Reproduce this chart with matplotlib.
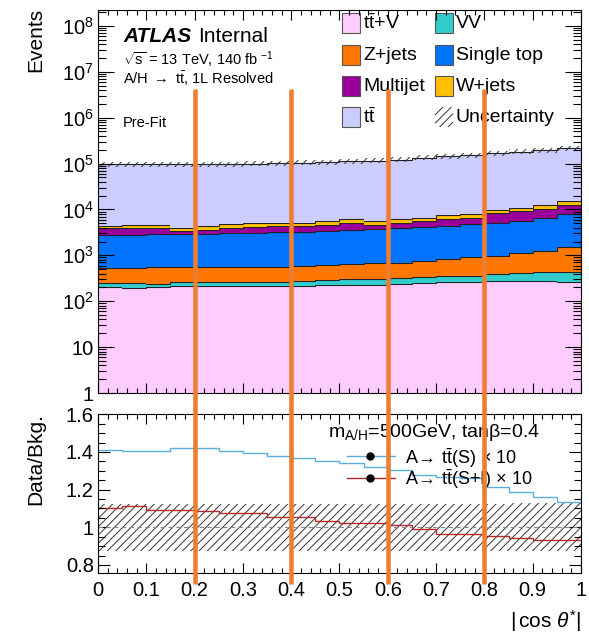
"""Pre-fit |cos theta*| distribution for the A/H -> tt 1L resolved channel.

Stacked background yields on a log scale, with the signal-over-background
ratio (S and S+I, scaled by 10) in a lower pad. Writes ``out.png``.
"""

import matplotlib

matplotlib.use("Agg")
import matplotlib.pyplot as plt
import matplotlib.transforms as mtransforms
import numpy as np
from matplotlib.lines import Line2D
from matplotlib.patches import Rectangle
from matplotlib.ticker import FixedLocator, LogLocator, MultipleLocator, NullFormatter

# --- Binning and yields (events per bin) ---------------------------------
bin_edges = np.linspace(0.0, 1.0, 21)

ttv = [204, 194, 204, 214, 214, 214, 218, 214, 218, 225,
       229, 229, 237, 245, 258, 262, 271, 280, 280, 267]
vv = [41, 51, 37, 48, 48, 53, 49, 53, 57, 65,
      71, 71, 83, 97, 102, 98, 114, 125, 153, 159]
zjets = [293, 293, 315, 294, 294, 289, 298, 285, 300, 314,
         336, 368, 371, 421, 470, 543, 597, 699, 829, 1116]
single_top = [2185, 2185, 2308, 2355, 2355, 2455, 2496, 2617, 2589, 2837,
              2981, 3134, 3243, 3303, 3446, 3825, 4158, 4485, 5345, 6401]
multijet = [1147, 1147, 1070, 472, 706, 989, 1144, 1112, 1112, 1209,
            1523, 771, 1036, 1523, 2004, 1879, 3210, 3481, 3593, 4527]
wjets = [554, 628, 639, 617, 807, 728, 935, 781, 864, 845,
         1040, 1117, 1111, 1018, 1150, 1209, 1350, 1480, 2070, 3020]
ttbar = [91500, 91400, 91300, 91900, 93100, 92800, 94000, 95800, 99200, 102300,
         105300, 109600, 115100, 127300, 138200, 145200, 156900, 170650, 184630, 198400]

# relative total uncertainty on the background
bkg_unc = [0.125, 0.125, 0.124, 0.124, 0.124, 0.124, 0.124, 0.124, 0.124, 0.124,
           0.124, 0.124, 0.125, 0.125, 0.125, 0.126, 0.126, 0.127, 0.128, 0.128]

# (B + 10 x signal) / B
ratio_s = [1.412, 1.407, 1.407, 1.420, 1.420, 1.405, 1.395, 1.378, 1.370, 1.350,
           1.340, 1.320, 1.305, 1.280, 1.265, 1.260, 1.215, 1.190, 1.160, 1.135]
ratio_si = [1.102, 1.113, 1.093, 1.093, 1.088, 1.077, 1.078, 1.054, 1.054, 1.036,
            1.024, 1.024, 1.010, 0.990, 0.964, 0.964, 0.952, 0.943, 0.934, 0.935]

TTBAR = r"t$\bar{\mathrm{t}}$"
ARROW = r"$\!\rightarrow\!$"

# stack order, bottom to top
SAMPLES = [
    (TTBAR + "+V", ttv, "#FFCCFF"),
    ("VV", vv, "#33CCCC"),
    ("Z+jets", zjets, "#FF7700"),
    ("Single top", single_top, "#0073FF"),
    ("Multijet", multijet, "#990099"),
    ("W+jets", wjets, "#FFBF00"),
    (TTBAR, ttbar, "#CCCCFF"),
]

cut_positions = [0.2, 0.4, 0.6, 0.8]

major_y_labels = ["1", "10", "10$^{2}$", "10$^{3}$", "10$^{4}$",
                  "10$^{5}$", "10$^{6}$", "10$^{7}$", "10$^{8}$"]
ratio_y_ticks = [0.8, 1.0, 1.2, 1.4, 1.6]
ratio_y_labels = ["0.8", "1", "1.2", "1.4", "1.6"]
x_ticks = [0.0, 0.1, 0.2, 0.3, 0.4, 0.5, 0.6, 0.7, 0.8, 0.9, 1.0]
x_labels = ["0", "0.1", "0.2", "0.3", "0.4", "0.5", "0.6", "0.7", "0.8", "0.9", "1"]

HATCH_COL = "#333333"
S_COL = "#5AAEE0"
SI_COL = "#B22A2A"

plt.rcParams.update({
    "font.family": "Liberation Sans",
    "mathtext.fontset": "custom",
    "mathtext.rm": "Liberation Sans",
    "mathtext.it": "Liberation Sans:italic",
    "mathtext.bf": "Liberation Sans:bold",
    "font.size": 14.5,
    "axes.linewidth": 0.8,
    "hatch.linewidth": 0.7,
    "xtick.direction": "in",
    "ytick.direction": "in",
    "xtick.top": True,
    "ytick.right": True,
})


def main() -> None:
    fig = plt.figure(figsize=(5.89, 6.35), dpi=100)
    ax = fig.add_axes([0.1664, 0.3811, 0.8200, 0.6039])
    rax = fig.add_axes([0.1664, 0.0976, 0.8200, 0.2499], sharex=ax)

    _draw_stack(ax)
    _draw_ratio(rax)
    _style_axes(ax, rax)
    _draw_labels(fig, ax, rax)

    # vertical markers spanning both pads
    trans = mtransforms.blended_transform_factory(ax.transData, fig.transFigure)
    for x in cut_positions:
        fig.add_artist(Line2D([x, x], [0.860, 0.080], transform=trans,
                              color="#ED7D31", lw=3.3, solid_capstyle="butt",
                              zorder=20))

    fig.savefig("out.png", dpi=100)
    plt.close(fig)


def _draw_stack(ax) -> None:
    cum = np.zeros(len(bin_edges) - 1)
    for _, vals, color in SAMPLES:
        top = cum + np.asarray(vals, dtype=float)
        ax.stairs(top, bin_edges, baseline=np.maximum(cum, 0.1), fill=True,
                  color=color, lw=0)
        ax.stairs(top, bin_edges, baseline=None, color="#222222", lw=0.8)
        cum = top
    unc = np.asarray(bkg_unc)
    ax.stairs(cum * (1 + unc), bin_edges, baseline=cum * (1 - unc), fill=True,
              facecolor="none", edgecolor=HATCH_COL, hatch="////", lw=0)

    # two-column legend, filled row by row
    box_w, box_h = 0.0373, 0.0522
    col_x = [0.5052, 0.6977]
    row_y = [0.9648, 0.8814, 0.8005, 0.7197]
    entries = [(lab, col) for lab, _, col in SAMPLES] + [("Uncertainty", None)]
    for i, (lab, col) in enumerate(entries):
        cx, cy = col_x[i % 2], row_y[i // 2]
        if col is None:
            patch = Rectangle((cx, cy - box_h / 2), box_w, box_h,
                              transform=ax.transAxes, facecolor="none",
                              edgecolor=HATCH_COL, hatch="////", lw=0)
        else:
            patch = Rectangle((cx, cy - box_h / 2), box_w, box_h,
                              transform=ax.transAxes, facecolor=col,
                              edgecolor="#555555", lw=0.8)
        ax.add_patch(patch)
        ax.text(cx + box_w + 0.006, cy, lab, transform=ax.transAxes,
                ha="left", va="center", fontsize=14)


def _draw_ratio(rax) -> None:
    unc = np.asarray(bkg_unc)
    rax.stairs(1 + unc, bin_edges, baseline=1 - unc, fill=True,
               facecolor="none", edgecolor=HATCH_COL, hatch="////", lw=0)
    rax.axhline(1.0, color="#888888", ls=(0, (4, 3)), lw=0.8)
    rax.stairs(ratio_s, bin_edges, baseline=None, color=S_COL, lw=1.0)
    rax.stairs(ratio_si, bin_edges, baseline=None, color=SI_COL, lw=1.0)

    rax.text(0.476, 0.888, "m$_{\\mathrm{A/H}}$=500GeV, tan\u03b2=0.4",
             transform=rax.transAxes, ha="left", va="center", fontsize=14)
    signal_entries = [
        (0.735, S_COL, "A" + ARROW + " " + TTBAR + "(S) \u00d7 10"),
        (0.599, SI_COL, "A" + ARROW + " " + TTBAR + "(S+I) \u00d7 10"),
    ]
    for y, col, lab in signal_entries:
        rax.plot([0.5155, 0.615], [y, y], transform=rax.transAxes, color=col, lw=1.0)
        rax.plot([0.563], [y], transform=rax.transAxes, marker="o", ms=5,
                 color="black")
        rax.text(0.6356, y - 0.01, lab, transform=rax.transAxes, ha="left",
                 va="center", fontsize=13)


def _style_axes(ax, rax) -> None:
    ax.set_yscale("log")
    ax.set_xlim(0.0, 1.0)
    ax.set_ylim(1.0, 2.27e8)
    ax.yaxis.set_major_locator(FixedLocator([10.0 ** k for k in range(9)]))
    ax.set_yticklabels(major_y_labels)
    ax.yaxis.set_minor_locator(LogLocator(base=10, subs=np.arange(2, 10), numticks=20))
    ax.yaxis.set_minor_formatter(NullFormatter())
    ax.xaxis.set_minor_locator(MultipleLocator(0.02))
    ax.tick_params(axis="x", labelbottom=False)
    ax.tick_params(axis="y", which="major", length=11.5, width=0.8, pad=3)
    ax.tick_params(axis="y", which="minor", length=5.5, width=0.8)
    ax.tick_params(axis="x", which="major", length=7, width=0.8)
    ax.tick_params(axis="x", which="minor", length=3.6, width=0.8)

    rax.set_ylim(0.757, 1.6)
    rax.set_yticks(ratio_y_ticks)
    rax.set_yticklabels(ratio_y_labels)
    rax.yaxis.set_minor_locator(MultipleLocator(0.05))
    rax.set_xticks(x_ticks)
    rax.set_xticklabels(x_labels)
    rax.tick_params(axis="y", which="major", length=8.5, width=0.8, pad=3)
    rax.tick_params(axis="y", which="minor", length=5, width=0.8)
    rax.tick_params(axis="x", which="major", length=7, width=0.8, pad=6)
    rax.tick_params(axis="x", which="minor", length=3.6, width=0.8)


def _draw_labels(fig, ax, rax) -> None:
    fig.text(36 / 589, 1 - 8 / 635, "Events", rotation=90, ha="center",
             va="top", fontsize=15)
    fig.text(36 / 589, 1 - 413 / 635, "Data/Bkg.", rotation=90, ha="center",
             va="top", fontsize=15)
    rax.text(1.0, -0.302, r"$|\,\cos\,\theta^{*}|$", transform=rax.transAxes,
             ha="right", va="center", fontsize=15)

    ax.text(0.0518, 0.916, "ATLAS", transform=ax.transAxes, fontsize=15,
            fontweight="bold", fontstyle="italic", va="baseline")
    ax.text(0.2077, 0.916, "Internal", transform=ax.transAxes, fontsize=15,
            va="baseline")
    ax.text(0.0518, 0.8535, r"$\sqrt{\mathrm{s}}$ = 13 TeV, 140 fb $^{-1}$",
            transform=ax.transAxes, fontsize=10.5, va="baseline")
    ax.text(0.0518, 0.805, r"A/H $\rightarrow$ " + TTBAR + ", 1L Resolved",
            transform=ax.transAxes, fontsize=10.5, va="baseline")
    ax.text(0.0518, 0.693, "Pre-Fit", transform=ax.transAxes, fontsize=10.5,
            va="baseline")


if __name__ == "__main__":
    main()
